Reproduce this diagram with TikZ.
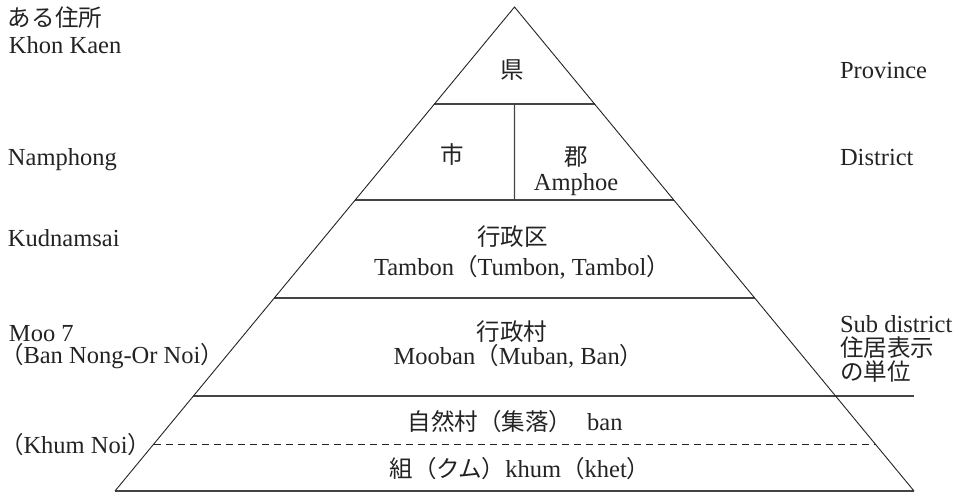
\documentclass[tikz,border=0pt]{standalone}
\usepackage{fontspec}
\setmainfont{Liberation Serif}
\newfontfamily\jpfont[Scale=0.96]{Noto Sans CJK JP}
\newcommand\jt[1]{{\jpfont #1}}
\newcommand\tightlines{\lineskiplimit-50pt\relax}
\usetikzlibrary{calc}
\definecolor{ink}{RGB}{35,35,35}
\begin{document}
\begin{tikzpicture}[x=1pt,y=-1pt,
  lbl/.style={inner sep=0pt, outer sep=0pt, text=ink, font=\fontsize{24.5}{27}\selectfont},
  edgeline/.style={draw=ink, line width=0.9pt},
  tier/.style={draw=ink!85, line width=1.1pt},
  dashline/.style={draw=ink, line width=0.9pt, dash pattern=on 7pt off 5pt}]
\useasboundingbox (0,0) rectangle (969,493);
% pyramid geometry
\coordinate (A) at (514.5,7);
\coordinate (BL) at (115,491);
\coordinate (BR) at (914,491);
\coordinate (L1) at ($(A)!0.2004!(BL)$);
\coordinate (R1) at ($(A)!0.2004!(BR)$);
\coordinate (L2) at ($(A)!0.3988!(BL)$);
\coordinate (R2) at ($(A)!0.3988!(BR)$);
\coordinate (L3) at ($(A)!0.6012!(BL)$);
\coordinate (R3) at ($(A)!0.6012!(BR)$);
\coordinate (L4) at ($(A)!0.8037!(BL)$);
\coordinate (E4) at (BR |- L4);
\coordinate (L5) at ($(A)!0.9029!(BL)$);
\coordinate (R5) at ($(A)!0.9029!(BR)$);
\coordinate (M1) at ($(L1)!0.5!(R1)$);
\coordinate (M2) at ($(L2)!0.5!(R2)$);
% lines
\draw[tier] (L1) -- (R1);
\draw[tier] (L2) -- (R2);
\draw[tier] (L3) -- (R3);
\draw[tier] (L4) -- (E4);
\draw[dashline] (L5) -- (R5);
\draw[tier] (M1) -- (M2);
\draw[tier] (BL) -- (BR);
\draw[edgeline] (BL) -- (A) -- (BR);
% left labels
\node[lbl, anchor=base west] (addr) at (8,26.5) {\jt{ある住所}};
\node[lbl, anchor=base west] (kk) at (9,53) {Khon Kaen};
\node[lbl, anchor=base west] (np) at (8,165) {Namphong};
\node[lbl, anchor=base west] (kd) at (8,246) {Kudnamsai};
\node[lbl, anchor=base west, align=left,
      font={\fontsize{24.5}{22}\selectfont\tightlines}] (moo) at (0,363.5)
      {\hspace*{9pt}Moo 7\\ \jt{（}Ban Nong-Or Noi\jt{）}};
\node[lbl, anchor=base west] (khn) at (0,453) {\jt{（}Khum Noi\jt{）}};
% right labels
\node[lbl, anchor=base west] (prov) at (840,78) {Province};
\node[lbl, anchor=base west] (dist) at (840,165) {District};
\node[lbl, anchor=base west] (sub) at (840,332) {Sub district};
\node[lbl, anchor=base west] (jk1) at (840,356) {\jt{住居表示}};
\node[lbl, anchor=base west] (jk2) at (840,380) {\jt{の単位}};
% pyramid labels
\node[lbl, anchor=base] (ken) at (512.5,78.5) {\jt{県}};
\node[lbl, anchor=base] (shi) at (452,163.5) {\jt{市}};
\node[lbl, anchor=base] (gun) at (576,165) {\jt{郡}};
\node[lbl, anchor=base] (amp) at (576,190) {Amphoe};
\node[lbl, anchor=base] (gyk) at (512.5,245) {\jt{行政区}};
\node[lbl, anchor=base] (tam) at (522,275.5) {Tambon\jt{（}Tumbon, Tambol\jt{）}};
\node[lbl, anchor=base] (gym) at (512,340) {\jt{行政村}};
\node[lbl, anchor=base] (moob) at (518.5,364.5) {Mooban\jt{（}Muban, Ban\jt{）}};
\node[lbl, anchor=base] (szm) at (515,430) {\jt{自然村（集落）}\hspace{15pt}ban};
\node[lbl, anchor=base] (kumi) at (520,477) {\jt{組（クム）}khum\jt{（}khet\jt{）}};
\end{tikzpicture}
\end{document}
